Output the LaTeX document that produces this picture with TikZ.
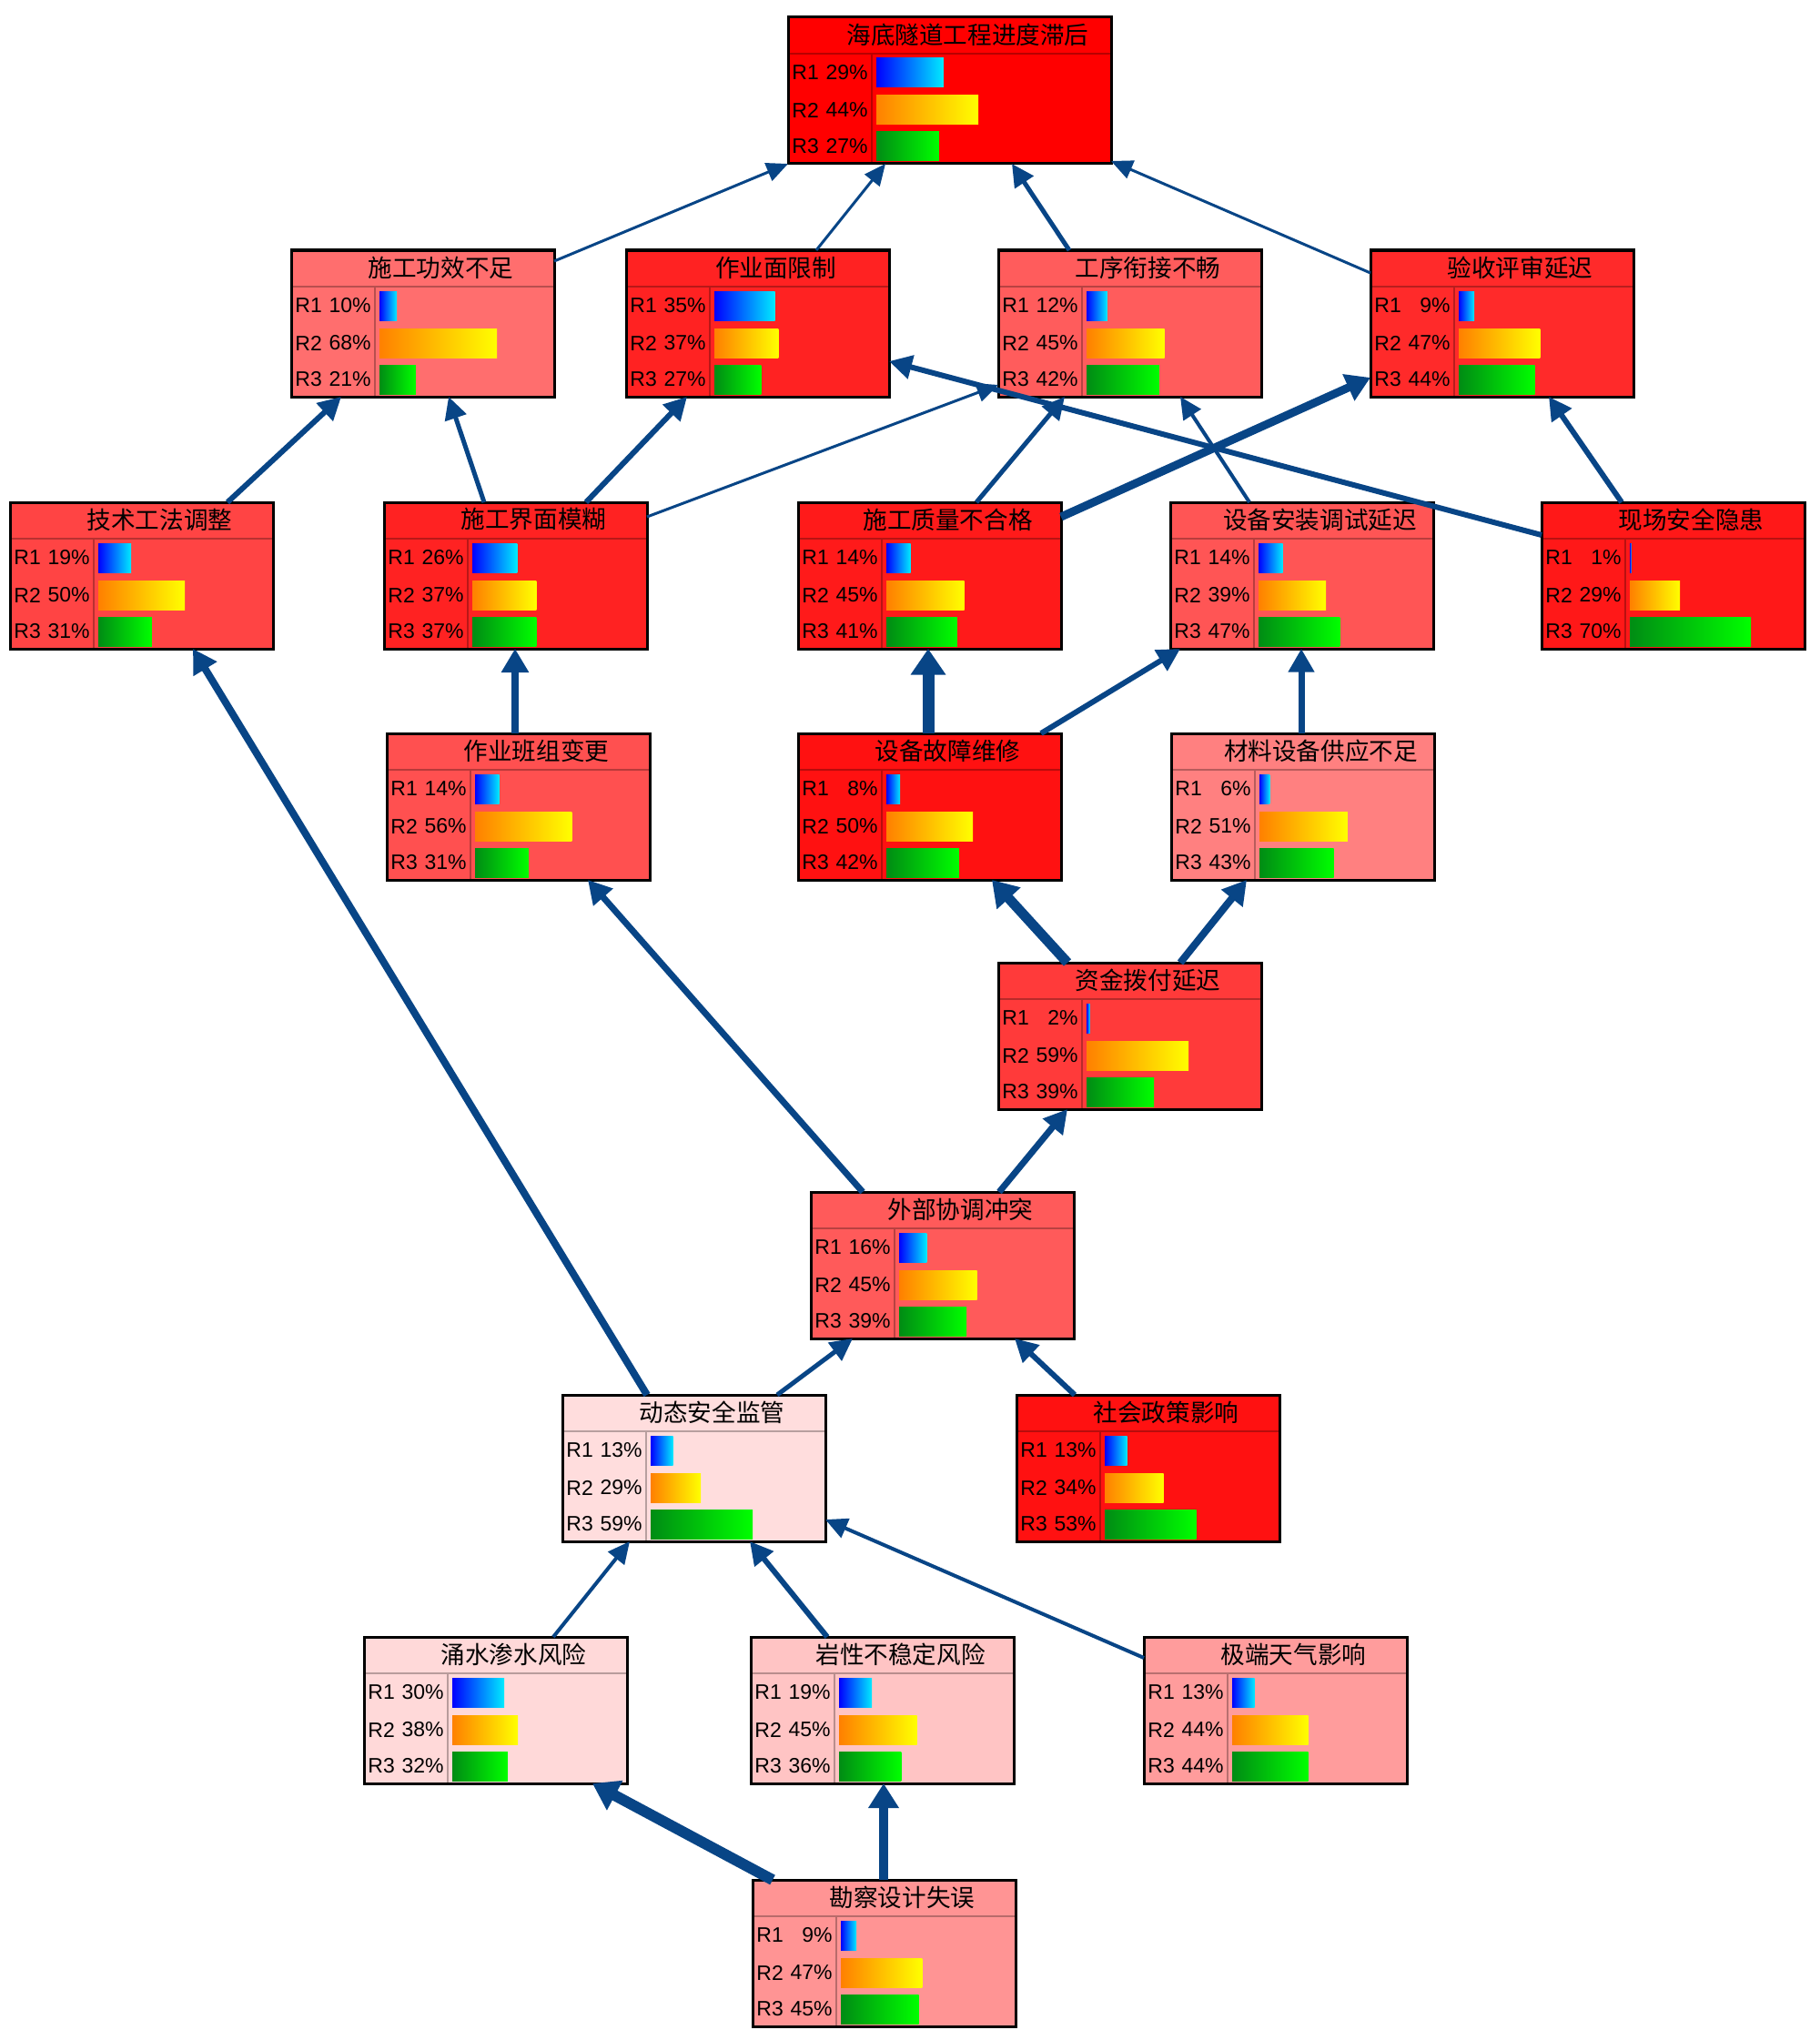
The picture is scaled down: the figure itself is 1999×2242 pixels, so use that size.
\documentclass[tikz,border=0pt]{standalone}
\usepackage{fontspec}
\setmainfont{Liberation Sans}
\newfontfamily\cjk{Noto Sans CJK SC}
\usetikzlibrary{arrows.meta}
\definecolor{edgeblue}{RGB}{8,69,134}
\definecolor{bluel}{RGB}{0,0,255}
\definecolor{bluer}{RGB}{0,235,255}
\definecolor{orl}{RGB}{255,128,0}
\definecolor{orr}{RGB}{255,255,0}
\definecolor{grl}{RGB}{0,140,20}
\definecolor{grr}{RGB}{0,255,0}
\definecolor{c1}{RGB}{255,0,0}
\definecolor{c2}{RGB}{255,110,110}
\definecolor{c3}{RGB}{255,34,34}
\definecolor{c4}{RGB}{255,92,92}
\definecolor{c5}{RGB}{255,42,42}
\definecolor{c6}{RGB}{255,68,68}
\definecolor{c7}{RGB}{255,34,34}
\definecolor{c8}{RGB}{255,26,26}
\definecolor{c9}{RGB}{255,85,85}
\definecolor{c10}{RGB}{255,24,24}
\definecolor{c11}{RGB}{255,80,80}
\definecolor{c12}{RGB}{255,17,17}
\definecolor{c13}{RGB}{255,128,128}
\definecolor{c14}{RGB}{255,58,58}
\definecolor{c15}{RGB}{255,90,90}
\definecolor{c16}{RGB}{255,221,221}
\definecolor{c17}{RGB}{255,17,17}
\definecolor{c18}{RGB}{255,217,217}
\definecolor{c19}{RGB}{255,196,196}
\definecolor{c20}{RGB}{255,156,156}
\definecolor{c21}{RGB}{255,148,148}
\tikzset{
  boxbase/.style={rectangle, inner sep=0pt, outer sep=0pt},
  boxborder/.style={draw=black, line width=1.5pt},
  cellline/.style={draw=#1!72!black, line width=0.6pt},
  ttl/.style={inner sep=0pt, font=\cjk\fontsize{13.3}{16}\selectfont, text=black},
  lbl/.style={inner sep=0pt, font=\fontsize{11.5}{13}\selectfont, text=black},
  lnk/.style={draw=edgeblue, line width=#1*0.5pt, -{Triangle[length=11pt 0.5, width=8pt 1.6]}}
}
\def\BW{289}
\def\BS{1.9}
\newcommand\riskbox[8]{%
  \node[boxbase, fill=#4, minimum width=\BW*0.5pt, minimum height=80.5pt] (#1) at ({#2+\BW/2},{#3+80.5}) {};
  \draw[cellline=#4] ({#2},{#3+40}) -- ({#2+\BW},{#3+40});
  \draw[cellline=#4] ({#2+92},{#3+40}) -- ({#2+92},{#3+161});
  \node[ttl] (#1-t) at ({#2+\BW/2+20},{#3+19}) {#5};
  \foreach \r/\p/\lc/\rc/\yo in {1/#6/bluel/bluer/45, 2/#7/orl/orr/86, 3/#8/grl/grr/126} {
    \shade[left color=\lc, right color=\rc] ({#2+97},{#3+\yo}) rectangle ({#2+97+\p*\BS},{#3+\yo+32});
    \node[lbl, anchor=west] (#1-l\r) at ({#2+4},{#3+\yo+16}) {R\r};
    \node[lbl, anchor=east] (#1-p\r) at ({#2+88},{#3+\yo+16}) {\p\%};
  }
  \draw[boxborder] (#1.north west) rectangle (#1.south east);
}
\newcommand\lnkdraw[7]{\draw[lnk=#1] ([shift={(#3,#4)}]#2.north west) -- ([shift={(#6,#7)}]#5.north west);}
\begin{document}
\begin{tikzpicture}[x=0.5pt,y=-0.5pt]
\fill[white] (0,0) rectangle (1999,2242);
\useasboundingbox (0,0) rectangle (1999,2242);
{\def\BW{355}\def\BS{2.55}
\riskbox{n1}{866}{19}{c1}{海底隧道工程进度滞后}{29}{44}{27}}
\riskbox{n2}{320}{275}{c2}{施工功效不足}{10}{68}{21}
\riskbox{n3}{688}{275}{c3}{作业面限制}{35}{37}{27}
\riskbox{n4}{1097}{275}{c4}{工序衔接不畅}{12}{45}{42}
\riskbox{n5}{1506}{275}{c5}{验收评审延迟}{9}{47}{44}
\riskbox{n6}{11}{552}{c6}{技术工法调整}{19}{50}{31}
\riskbox{n7}{422}{552}{c7}{施工界面模糊}{26}{37}{37}
\riskbox{n8}{877}{552}{c8}{施工质量不合格}{14}{45}{41}
\riskbox{n9}{1286}{552}{c9}{设备安装调试延迟}{14}{39}{47}
\riskbox{n10}{1694}{552}{c10}{现场安全隐患}{1}{29}{70}
\riskbox{n11}{425}{806}{c11}{作业班组变更}{14}{56}{31}
\riskbox{n12}{877}{806}{c12}{设备故障维修}{8}{50}{42}
\riskbox{n13}{1287}{806}{c13}{材料设备供应不足}{6}{51}{43}
\riskbox{n14}{1097}{1058}{c14}{资金拨付延迟}{2}{59}{39}
\riskbox{n15}{891}{1310}{c15}{外部协调冲突}{16}{45}{39}
\riskbox{n16}{618}{1533}{c16}{动态安全监管}{13}{29}{59}
\riskbox{n17}{1117}{1533}{c17}{社会政策影响}{13}{34}{53}
\riskbox{n18}{400}{1799}{c18}{涌水渗水风险}{30}{38}{32}
\riskbox{n19}{825}{1799}{c19}{岩性不稳定风险}{19}{45}{36}
\riskbox{n20}{1257}{1799}{c20}{极端天气影响}{13}{44}{44}
\riskbox{n21}{827}{2066}{c21}{勘察设计失误}{9}{47}{45}
% connectors
\lnkdraw{3}{n2}{289}{12}{n1}{0}{161}
\lnkdraw{3}{n3}{209}{0}{n1}{107}{161}
\lnkdraw{5}{n4}{78}{0}{n1}{246}{161}
\lnkdraw{3}{n5}{0}{25}{n1}{355}{158}
\lnkdraw{6}{n6}{239}{0}{n2}{55}{161}
\lnkdraw{5}{n7}{110}{0}{n2}{173}{161}
\lnkdraw{6}{n7}{222}{0}{n3}{67}{161}
\lnkdraw{3}{n7}{289}{16}{n4}{0}{148}
\lnkdraw{6}{n10}{0}{36}{n3}{289}{122}
\lnkdraw{9}{n8}{289}{16}{n5}{0}{140}
\lnkdraw{5}{n8}{196}{0}{n4}{73}{161}
\lnkdraw{4}{n9}{87}{0}{n4}{200}{161}
\lnkdraw{6}{n10}{88}{0}{n5}{196}{161}
\lnkdraw{8}{n11}{141}{0}{n7}{144}{161}
\lnkdraw{13}{n12}{143}{0}{n8}{143}{161}
\lnkdraw{6}{n12}{267}{0}{n9}{11}{161}
\lnkdraw{7}{n13}{143}{0}{n9}{144}{161}
\lnkdraw{11}{n14}{76}{0}{n12}{213}{161}
\lnkdraw{8}{n14}{200}{0}{n13}{83}{161}
\lnkdraw{7}{n15}{57}{0}{n11}{221}{161}
\lnkdraw{7}{n15}{207}{0}{n14}{76}{161}
\lnkdraw{5}{n16}{236}{0}{n15}{46}{161}
\lnkdraw{8}{n16}{93}{0}{n6}{201}{161}
\lnkdraw{6}{n17}{64}{0}{n15}{224}{161}
\lnkdraw{4}{n18}{208}{0}{n16}{74}{161}
\lnkdraw{6}{n19}{84}{0}{n16}{206}{161}
\lnkdraw{4}{n20}{0}{23}{n16}{289}{137}
\lnkdraw{12}{n21}{22}{0}{n18}{251}{161}
\lnkdraw{10}{n21}{144}{0}{n19}{146}{161}
\end{tikzpicture}
\end{document}
